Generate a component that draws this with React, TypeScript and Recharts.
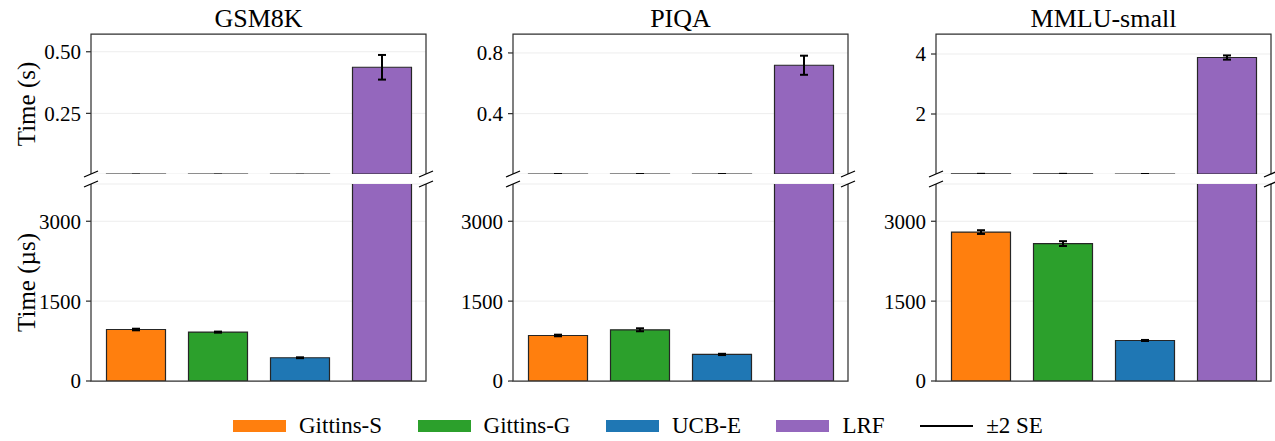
import React from 'react'
import { Bar, BarChart, CartesianGrid, Cell, ErrorBar, XAxis, YAxis } from 'recharts'

const DATASETS = ['GSM8K', 'PIQA', 'MMLU-small']
const METHODS = ['Gittins-S', 'Gittins-G', 'UCB-E', 'LRF']
const COLORS = ['#ff7f0e', '#2ca02c', '#1f77b4', '#9467bd']

// mean time per dataset (µs)
const GITTINS_S = [967, 855, 2797]
const GITTINS_G = [918, 962, 2581]
const UCB_E = [437, 499, 761]
const LRF = [437000, 719000, 3883000]

// ±2 SE per dataset (µs)
const GITTINS_S_ERR = [15, 15, 35]
const GITTINS_G_ERR = [10, 28, 45]
const UCB_E_ERR = [8, 12, 10]
const LRF_ERR = [50000, 63000, 70000]

const TOP_TICKS = [[0.25, 0.5], [0.4, 0.8], [2, 4]]
const TOP_TICK_LABELS = [['0.25', '0.50'], ['0.4', '0.8'], ['2', '4']]
const TOP_DOMAIN = [[0.004, 0.572], [0.002, 0.925], [0, 4.667]]
const BOTTOM_TICKS = [0, 1500, 3000]
const BOTTOM_DOMAIN = [0, 3700]

const MEANS = [GITTINS_S, GITTINS_G, UCB_E, LRF]
const ERRS = [GITTINS_S_ERR, GITTINS_G_ERR, UCB_E_ERR, LRF_ERR]

const FONT = "'Liberation Serif', 'Times New Roman', serif"
const PLOT_LEFT = [91, 513, 936]
const PLOT_W = 335
const AXIS_W = 91
const TOP_Y0 = 34
const TOP_Y1 = 174
const BOT_Y0 = 184
const BOT_Y1 = 381
const PAD = 4
const SPINE = '#333'

function yLabel(text: string) {
  return {
    value: text,
    angle: -90,
    position: 'insideLeft' as const,
    offset: 26,
    style: { textAnchor: 'middle', fontSize: 25, fill: '#000', fontFamily: FONT },
  }
}

// tick mark + label, drawn by hand so the serif font and dark tick line stick
function makeTick(fmt: (v: number) => string) {
  return function Tick(props: any) {
    const { x, y, payload } = props
    return (
      <g>
        <line x1={x + 5} x2={x + 10} y1={y} y2={y} stroke={SPINE} strokeWidth={1.25} />
        <text x={x} y={y} dy="0.355em" textAnchor="end" fontSize={21} fontFamily={FONT} fill="#000">
          {fmt(payload.value)}
        </text>
      </g>
    )
  }
}

function Panel({ i }: { i: number }) {
  const rows = METHODS.map((m, k) => ({
    method: m,
    color: COLORS[k],
    us: MEANS[k][i],
    usErr: ERRS[k][i],
    s: MEANS[k][i] / 1e6,
    sErr: ERRS[k][i] / 1e6,
  }))
  const left = PLOT_LEFT[i] - AXIS_W
  const chartW = AXIS_W + PLOT_W + 2
  const topTick = makeTick((v) => TOP_TICK_LABELS[i][TOP_TICKS[i].indexOf(v)] ?? String(v))
  const botTick = makeTick((v) => String(v))

  return (
    <>
      {/* upper part, seconds */}
      <div style={{ position: 'absolute', left, top: TOP_Y0 - PAD }}>
        <BarChart
          width={chartW}
          height={PAD + (TOP_Y1 - TOP_Y0)}
          data={rows}
          margin={{ top: PAD, right: 2, bottom: 0, left: 0 }}
          barSize={59}
        >
          <CartesianGrid vertical={false} stroke="#ededed" />
          <XAxis
            dataKey="method"
            orientation="top"
            height={0}
            tick={false}
            tickLine={false}
            axisLine={false}
            padding={{ left: 3.5, right: 3.5 }}
          />
          <YAxis
            width={AXIS_W}
            type="number"
            domain={TOP_DOMAIN[i]}
            allowDataOverflow
            ticks={TOP_TICKS[i]}
            tick={topTick}
            tickSize={5}
            tickMargin={5}
            tickLine={false}
            axisLine={false}
            label={i === 0 ? yLabel('Time (s)') : undefined}
          />
          <Bar dataKey="s" stroke="#262626" strokeWidth={1.2} isAnimationActive={false}>
            {rows.map((r) => (
              <Cell key={r.method} fill={r.color} />
            ))}
            <ErrorBar dataKey="sErr" width={4} strokeWidth={2} stroke="#000" />
          </Bar>
        </BarChart>
      </div>

      {/* lower part, microseconds */}
      <div style={{ position: 'absolute', left, top: BOT_Y0 - PAD }}>
        <BarChart
          width={chartW}
          height={PAD + (BOT_Y1 - BOT_Y0) + 16}
          data={rows}
          margin={{ top: PAD, right: 2, bottom: 16, left: 0 }}
          barSize={59}
        >
          <CartesianGrid vertical={false} stroke="#ededed" />
          <XAxis
            dataKey="method"
            height={0}
            tick={false}
            tickLine={false}
            axisLine={false}
            padding={{ left: 3.5, right: 3.5 }}
          />
          <YAxis
            width={AXIS_W}
            type="number"
            domain={BOTTOM_DOMAIN}
            allowDataOverflow
            ticks={BOTTOM_TICKS}
            tick={botTick}
            tickSize={5}
            tickMargin={5}
            tickLine={false}
            axisLine={false}
            label={i === 0 ? yLabel('Time (µs)') : undefined}
          />
          <Bar dataKey="us" stroke="#262626" strokeWidth={1.2} isAnimationActive={false}>
            {rows.map((r) => (
              <Cell key={r.method} fill={r.color} />
            ))}
            <ErrorBar dataKey="usErr" width={4} strokeWidth={2} stroke="#000" />
          </Bar>
        </BarChart>
      </div>
    </>
  )
}

// titles, axes frames and the "//" break marks
function Overlay() {
  const marks: { x: number; y: number }[] = []
  PLOT_LEFT.forEach((x0) => {
    for (const x of [x0, x0 + PLOT_W]) {
      marks.push({ x, y: TOP_Y1 }, { x, y: BOT_Y0 })
    }
  })
  return (
    <svg width={1275} height={441} style={{ position: 'absolute', left: 0, top: 0, pointerEvents: 'none' }}>
      {DATASETS.map((d, i) => {
        const x0 = PLOT_LEFT[i]
        const x1 = x0 + PLOT_W
        return (
          <g key={d}>
            <text x={(x0 + x1) / 2} y={27} textAnchor="middle" fontSize={26} fontFamily={FONT} fill="#000">
              {d}
            </text>
            <path
              d={`M${x0},${TOP_Y1}V${TOP_Y0}H${x1}V${TOP_Y1}`}
              fill="none"
              stroke={SPINE}
              strokeWidth={1.25}
            />
            <path
              d={`M${x0},${BOT_Y0}V${BOT_Y1}H${x1}V${BOT_Y0}`}
              fill="none"
              stroke={SPINE}
              strokeWidth={1.25}
            />
          </g>
        )
      })}
      {marks.map((m, k) => (
        <line key={k} x1={m.x - 7} y1={m.y + 3} x2={m.x + 7} y2={m.y - 3} stroke="#000" strokeWidth={1.3} />
      ))}
    </svg>
  )
}

function Legend() {
  const items = [
    ...METHODS.map((m, k) => ({ label: m, color: COLORS[k], line: false })),
    { label: '±2 SE', color: '#000', line: true },
  ]
  return (
    <div
      style={{
        position: 'absolute',
        left: 233,
        top: 413,
        display: 'flex',
        alignItems: 'center',
        gap: 35.5,
        fontFamily: FONT,
        fontSize: 23,
        color: '#000',
      }}
    >
      {items.map((it) => (
        <div key={it.label} style={{ display: 'flex', alignItems: 'center' }}>
          <span
            style={{
              display: 'inline-block',
              width: 53,
              height: it.line ? 2 : 12,
              background: it.color,
              marginRight: 13,
            }}
          />
          <span>{it.label}</span>
        </div>
      ))}
    </div>
  )
}

export default function App() {
  return (
    <div
      style={{
        position: 'absolute',
        left: 0,
        top: 0,
        width: 1275,
        height: 441,
        background: '#fff',
        fontFamily: FONT,
      }}
    >
      {DATASETS.map((d, i) => (
        <Panel key={d} i={i} />
      ))}
      <Overlay />
      <Legend />
    </div>
  )
}
